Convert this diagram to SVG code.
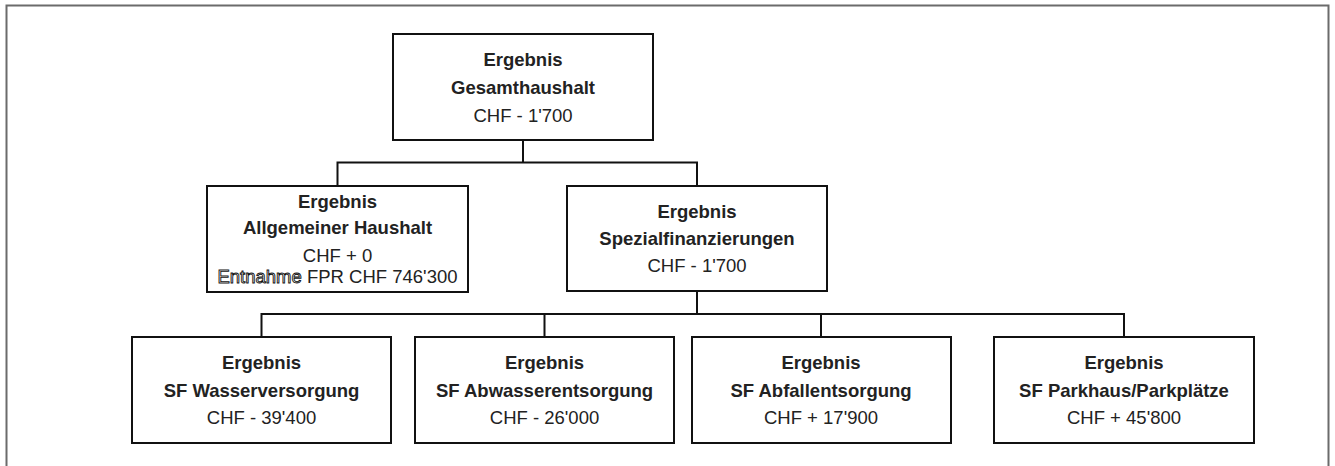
<svg xmlns="http://www.w3.org/2000/svg" width="1335" height="466" viewBox="0 0 1335 466">
<style>
.box{fill:#fff;stroke:#111;stroke-width:2}
.t{font-family:"Liberation Sans",Arial,sans-serif;font-size:18.5px;fill:#222;text-anchor:middle}
.b{font-weight:bold}
.c{fill:none;stroke:#111;stroke-width:2}
.o{fill:#fff;stroke:#111;stroke-width:0.9}
</style>
<rect width="1335" height="466" fill="#fff"/>
<path d="M6.5 466V5.5H1328.5V466" fill="none" stroke="#6b6b6b" stroke-width="2"/>
<g id="connectors">
<path class="c" d="M523 140V162.5M337.5 186V162.5H697V186"/>
<path class="c" d="M697 291V314M261.5 337V314H1124V337M544.5 314V337M821 314V337"/>
</g>
<g id="gesamt">
<rect class="box" x="393" y="34" width="260" height="106"/>
<text class="t b" x="523" y="66">Ergebnis</text>
<text class="t b" x="523" y="93.5">Gesamthaushalt</text>
<text class="t" x="523" y="121.5">CHF - 1'700</text>
</g>
<g id="allgemein">
<rect class="box" x="207" y="186" width="261" height="106"/>
<text class="t b" x="337.5" y="207.5">Ergebnis</text>
<text class="t b" x="337.5" y="234">Allgemeiner Haushalt</text>
<text class="t" x="337.5" y="262">CHF + 0</text>
<text class="t" x="337.5" y="282.5"><tspan class="o">Entnahme</tspan> FPR CHF 746'300</text>
</g>
<g id="spezial">
<rect class="box" x="567" y="186" width="260" height="105"/>
<text class="t b" x="697" y="217.5">Ergebnis</text>
<text class="t b" x="697" y="244.5">Spezialfinanzierungen</text>
<text class="t" x="697" y="272">CHF - 1'700</text>
</g>
<g id="wasser">
<rect class="box" x="132" y="337" width="259" height="106"/>
<text class="t b" x="261.5" y="369">Ergebnis</text>
<text class="t b" x="261.5" y="396.5">SF Wasserversorgung</text>
<text class="t" x="261.5" y="424">CHF - 39'400</text>
</g>
<g id="abwasser">
<rect class="box" x="415" y="337" width="259" height="106"/>
<text class="t b" x="544.5" y="369">Ergebnis</text>
<text class="t b" x="544.5" y="396.5">SF Abwasserentsorgung</text>
<text class="t" x="544.5" y="424">CHF - 26'000</text>
</g>
<g id="abfall">
<rect class="box" x="692" y="337" width="259" height="106"/>
<text class="t b" x="821" y="369">Ergebnis</text>
<text class="t b" x="821" y="396.5">SF Abfallentsorgung</text>
<text class="t" x="821" y="424">CHF + 17'900</text>
</g>
<g id="parkhaus">
<rect class="box" x="994" y="337" width="260" height="106"/>
<text class="t b" x="1124" y="369">Ergebnis</text>
<text class="t b" x="1124" y="396.5">SF Parkhaus/Parkplätze</text>
<text class="t" x="1124" y="424">CHF + 45'800</text>
</g>
</svg>
